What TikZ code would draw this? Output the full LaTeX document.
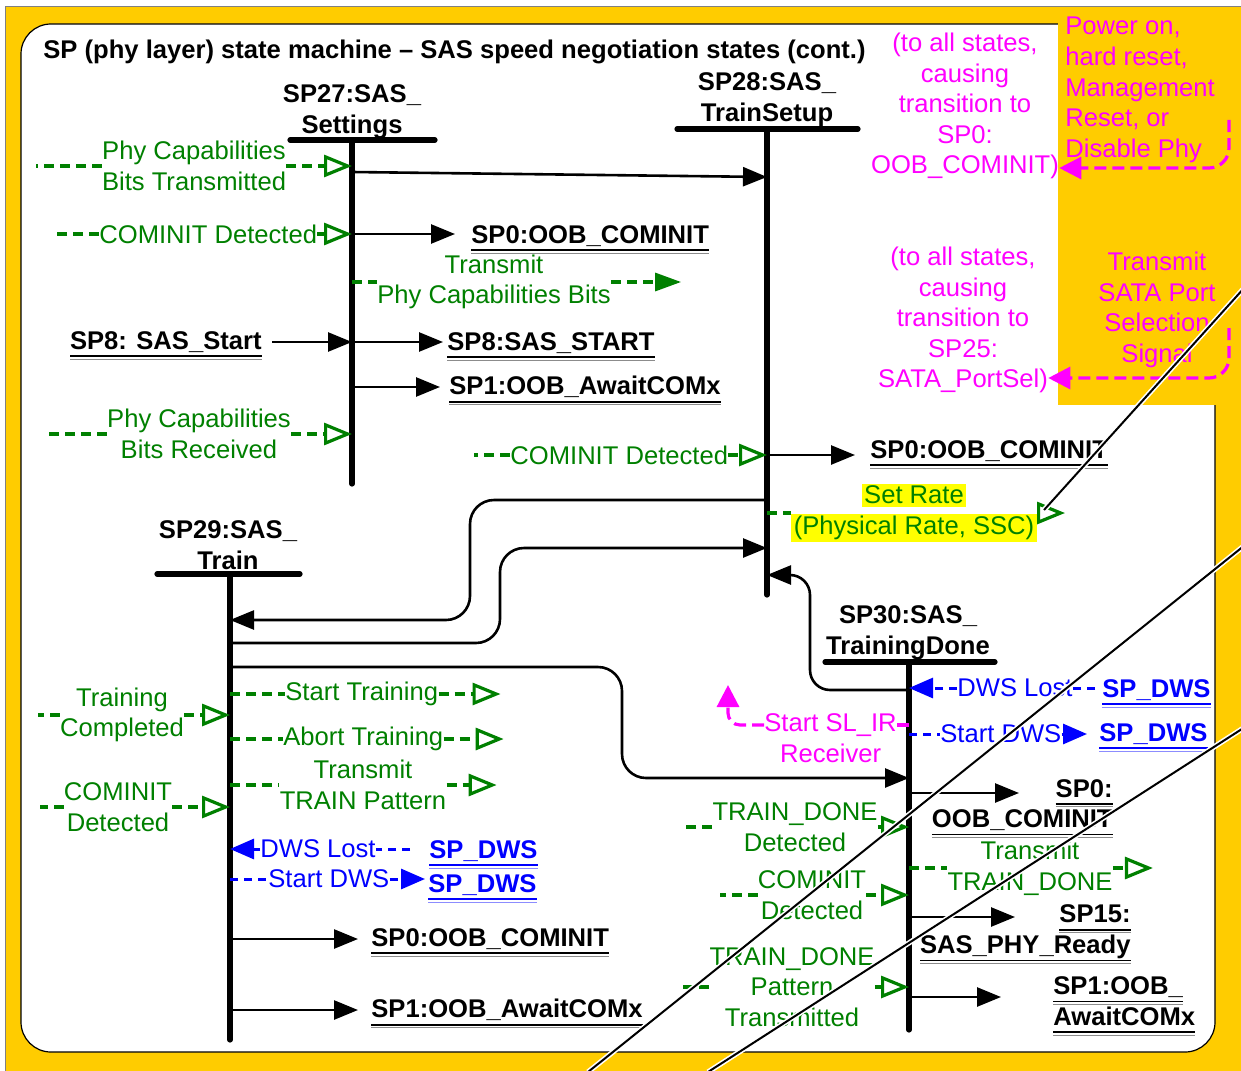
\documentclass[tikz,border=0pt]{standalone}
\usepackage{fontspec}
\setmainfont{Liberation Sans}
\usepackage{xcolor}
\usepackage{tikz}
\usetikzlibrary{arrows.meta,positioning}
\definecolor{backyel}{HTML}{FFCC00}
\definecolor{siggrn}{HTML}{008000}
\definecolor{resetmag}{HTML}{FF00FF}
\definecolor{dwsblue}{HTML}{0000FF}
\definecolor{hilite}{HTML}{FFFF00}
\newcommand{\stul}[1]{\setbox0=\hbox{#1}%
  \rlap{\raisebox{-3.9pt}[0pt][0pt]{\rule{\wd0}{0.9pt}}}%
  \rlap{\raisebox{-5.2pt}[0pt][0pt]{\color{.!45}\rule{\wd0}{0.5pt}}}%
  \box0}
\newcommand{\hilit}[1]{{\setlength{\fboxsep}{1.2pt}\colorbox{hilite}{#1}}}

\begin{document}
\begin{tikzpicture}[x=0.5pt,y=-0.5pt,node distance=3pt,
  txt/.style={font=\fontsize{12.8}{15.3}\selectfont,inner sep=0pt,align=center},
  stname/.style={txt,font=\fontsize{12.8}{15.3}\selectfont\bfseries},
  sigtxt/.style={txt,text=siggrn},
  magtxt/.style={txt,text=resetmag},
  dwstxt/.style={txt,text=dwsblue},
  dwsdest/.style={stname,text=dwsblue},
  bar/.style={line width=2.6pt,line cap=round},
  go/.style={line width=1.3pt,-{Triangle[length=12pt,width=9.5pt]}},
  sigd/.style={siggrn,line width=1.6pt,dash pattern=on 5pt off 3pt},
  sigin/.style={sigd,-{Triangle[open,length=14pt,width=11pt]}},
  sigout/.style={sigd,-{Triangle[length=13pt,width=9pt]}},
  dwsd/.style={dwsblue,line width=1.5pt,dash pattern=on 4pt off 3pt},
  dwsarr/.style={dwsd,-{Triangle[length=12pt,width=10pt]}},
  magd/.style={resetmag,line width=1.6pt,dash pattern=on 6pt off 3pt},
  magarr/.style={magd,-{Triangle[length=11pt,width=11pt]}},
  stray/.style={black,line width=1pt,preaction={draw=white,line width=2.6pt}}]
\useasboundingbox (0,0) rectangle (1241,1070);
% frame
\fill[white] (0,0) rectangle (1241,1070);
\draw[gray,fill=backyel] (5,6) rectangle (1250,1080);
\draw[fill=white,rounded corners=15pt,line width=0.6pt] (21,24) rectangle (1215,1052);
\fill[backyel] (1058,7) rectangle (1241,405);
\node[stname,anchor=west] (title) at (43,52) {SP (phy layer) state machine – SAS speed negotiation states (cont.)};

% states
\coordinate (l27) at (352,140);
\coordinate (l28) at (767,129);
\coordinate (l29) at (230,574);
\coordinate (l30) at (909,662);
\node[stname] (sp27) at (352,112) {SP27:SAS\_\\Settings};
\draw[bar] (290,140) -- (435,140);
\draw[bar] (l27) -- (352,484);
\node[stname] (sp28) at (767,100) {SP28:SAS\_\\TrainSetup};
\draw[bar] (677,129) -- (858,129);
\draw[bar] (l28) -- (767,595);
\node[stname] (sp29) at (228,545) {SP29:SAS\_\\Train};
\draw[bar] (157,574) -- (300,574);
\draw[bar] (l29) -- (230,1040);
\node[stname] (sp30) at (908,633) {SP30:SAS\_\\TrainingDone};
\draw[bar] (825,662) -- (995,662);
\draw[bar] (l30) -- (909,1030);

% SP27
\node[sigtxt] (pct) at (194,166) {Phy Capabilities\\Bits Transmitted};
\draw[sigd] (pct.west) -- +(-66,0);
\draw[sigin] (pct.east) -- (pct.east -| l27);
\draw[go] (l27 |- 0,172) -- (l28 |- 0,177);
\node[sigtxt,anchor=west] (cin1) at (99,234) {COMINIT Detected};
\draw[sigd] (cin1.west) -- +(-44,0);
\draw[sigin] (cin1.east) -- (cin1.east -| l27);
\node[stname,anchor=west] (oob1) at (471,236) {\stul{SP0:OOB\_COMINIT}};
\draw[go,shorten >=8pt] (cin1.east -| l27) -- (oob1.west |- cin1.east);
\node[sigtxt] (tpc) at (494,282) {Transmit\\Phy Capabilities Bits};
\draw[sigd] (tpc.west -| l27) -- (tpc.west);
\draw[sigout] (tpc.east) -- +(70,0);
\node[stname,anchor=east] (sp8in) at (262,342) {\stul{SP8: SAS\_Start}};
\draw[go,shorten <=5pt] (sp8in.east) -- (sp8in.east -| l27);
\node[stname,anchor=west] (sp8out) at (447,343) {\stul{SP8:SAS\_START}};
\draw[go,shorten >=2pt] (sp8in.east -| l27) -- (sp8out.west |- sp8in.east);
\node[stname,anchor=west] (oobw1) at (449,387) {\stul{SP1:OOB\_AwaitCOMx}};
\draw[go,shorten >=4.5pt] (oobw1.west -| l27) -- (oobw1.west);
\node[sigtxt] (pcr) at (199,434) {Phy Capabilities\\Bits Received};
\draw[sigd] (pcr.west) -- +(-60,0);
\draw[sigin] (pcr.east) -- (pcr.east -| l27);

% SP28
\node[sigtxt,anchor=west] (cin2) at (510,455) {COMINIT Detected};
\draw[sigd] (cin2.west) -- +(-36,0);
\draw[sigin] (cin2.east) -- (cin2.east -| l28);
\node[stname,anchor=west] (oob2) at (870,451) {\stul{SP0:OOB\_COMINIT}};
\draw[go,shorten >=7.5pt] (cin2.east -| l28) -- (oob2.west |- cin2.east);
\node[sigtxt] (srate) at (914,513) {\hilit{Set Rate}\\\hilit{(Physical Rate, SSC)}};
\draw[sigd] (srate.west -| l28) -- (srate.west);
\draw[sigin] (srate.east) -- +(28,0);

% between states
\draw[go,rounded corners=12pt] (l28 |- 0,500) -- (470,500) -- (470,620) -- (l29 |- 0,620);
\draw[go,rounded corners=12pt] (l29 |- 0,643) -- (500,643) -- (500,548) -- (l28 |- 0,548);
\draw[go,rounded corners=10pt] (l30 |- 0,690) -- (810,690) -- (810,575) -- (l28 |- 0,575);
\draw[go,rounded corners=12pt] (l29 |- 0,667) -- (622,667) -- (622,778) -- (l30 |- 0,778);

% SP29
\node[sigtxt] (tcomp) at (122,715) {Training\\Completed};
\draw[sigd] (tcomp.west) -- +(-22,0);
\draw[sigin] (tcomp.east) -- (tcomp.east -| l29);
\node[sigtxt] (cin3) at (118,807) {COMINIT\\Detected};
\draw[sigd] (cin3.west) -- +(-24,0);
\draw[sigin] (cin3.east) -- (cin3.east -| l29);
\node[sigtxt,anchor=west] (strain) at (285,694) {Start Training};
\draw[sigd] (strain.west -| l29) -- (strain.west);
\draw[sigin] (strain.east) -- +(62,0);
\node[sigtxt,anchor=west] (atrain) at (283,739) {Abort Training};
\draw[sigd] (atrain.west -| l29) -- (atrain.west);
\draw[sigin] (atrain.east) -- +(60,0);
\node[sigtxt] (ttrain) at (363,785) {Transmit\\TRAIN Pattern};
\draw[sigd] (ttrain.west -| l29) -- (ttrain.west);
\draw[sigin] (ttrain.east) -- +(50,0);
\node[dwstxt,anchor=west] (dlost1) at (260,849) {DWS Lost};
\draw[dwsarr] (dlost1.west) -- (dlost1.west -| l29);
\node[dwsdest,anchor=west] (dws1) at (429,851) {\stul{SP\_DWS}};
\draw[dwsd,shorten <=9.5pt] (dws1.west |- dlost1.east) -- (dlost1.east);
\node[dwstxt,anchor=west] (sdws1) at (268,879) {Start DWS};
\draw[dwsd] (sdws1.west -| l29) -- (sdws1.west);
\node[dwsdest,anchor=west] (dws2) at (428,885) {\stul{SP\_DWS}};
\draw[dwsarr,shorten >=1.5pt] (sdws1.east) -- (dws2.west |- sdws1.east);
\node[stname,anchor=west] (oob3) at (371,939) {\stul{SP0:OOB\_COMINIT}};
\draw[go,shorten >=6.5pt] (oob3.west -| l29) -- (oob3.west);
\node[stname,anchor=west] (oobw2) at (371,1010) {\stul{SP1:OOB\_AwaitCOMx}};
\draw[go,shorten >=6.5pt] (oobw2.west -| l29) -- (oobw2.west);

% SP30
\node[dwstxt,anchor=west] (dlost2) at (957,688) {DWS Lost};
\draw[dwsarr] (dlost2.west) -- (dlost2.west -| l30);
\node[dwsdest,anchor=west] (dws3) at (1102,690) {\stul{SP\_DWS}};
\draw[dwsd,shorten <=3.5pt] (dws3.west |- dlost2.east) -- (dlost2.east);
\node[magtxt,anchor=west] (slir) at (764,725) {Start SL\_IR};
\node[magtxt,below=3.5pt of slir] (slir2) {Receiver};
\draw[magd] (slir.east -| l30) -- (slir.east);
\draw[magarr,rounded corners=6pt] (slir.west) -- ++(-36,0) -- ++(0,-40);
\node[dwstxt,anchor=west] (sdws2) at (940,734) {Start DWS};
\draw[dwsd] (sdws2.west -| l30) -- (sdws2.west);
\node[dwsdest,anchor=west] (dws4) at (1099,734) {\stul{SP\_DWS}};
\draw[dwsarr,shorten >=6pt] (sdws2.east) -- (dws4.west |- sdws2.east);
\node[stname,anchor=east,align=right] (oob4) at (1113,805) {\stul{SP0:}\\\stul{OOB\_COMINIT}};
\draw[go] (l30 |- 0,793) -- ++(110,0);
\node[sigtxt] (tdone) at (795,827) {TRAIN\_DONE\\Detected};
\draw[sigd] (tdone.west) -- +(-28,0);
\draw[sigin] (tdone.east) -- (tdone.east -| l30);
\node[sigtxt] (ttd) at (1030,868) {Transmit\\TRAIN\_DONE};
\draw[sigd] (ttd.west -| l30) -- (ttd.west);
\draw[sigin] (ttd.east) -- +(40,0);
\node[sigtxt] (cin4) at (812,895) {COMINIT\\Detected};
\draw[sigd] (cin4.west) -- +(-38,0);
\draw[sigin] (cin4.east) -- (cin4.east -| l30);
\node[stname,anchor=east,align=right] (rdy) at (1131,932) {\stul{SP15:}\\\stul{SAS\_PHY\_Ready}};
\draw[go] (l30 |- 0,917) -- ++(106,0);
\node[sigtxt] (tdpt) at (792,987) {TRAIN\_DONE\\Pattern\\Transmitted};
\draw[sigd] (tdpt.west) -- +(-30,0);
\draw[sigin] (tdpt.east) -- (tdpt.east -| l30);
\node[stname,anchor=west,align=left] (oobw3) at (1053,1001) {\stul{SP1:OOB\_}\\\stul{AwaitCOMx}};
\draw[go] (l30 |- 0,997) -- ++(92,0);

% global transitions
\node[magtxt] (allsp0) at (965,106) {(to all states,\\causing\\transition to\\SP0:\\OOB\_COMINIT)};
\node[magtxt,anchor=west,align=left] (pwron) at (1065,90) {Power on,\\hard reset,\\Management\\Reset, or\\Disable Phy};
\coordinate (pwrtail) at (1229,120);
\draw[magarr,rounded corners=10pt] (pwrtail) -- (pwrtail |- 0,168) -- (allsp0.east |- 0,168);
\node[magtxt] (allsp25) at (963,320) {(to all states,\\causing\\transition to\\SP25:\\SATA\_PortSel)};
\node[magtxt] (tsps) at (1157,310) {Transmit\\SATA Port\\Selection\\Signal};
\coordinate (tspstail) at (1229,328);
\draw[magarr,rounded corners=10pt] (tspstail) -- (tspstail |- 0,378) -- (allsp25.east |- 0,378);

% stray strokes
\draw[stray] (1245,287) -- (1044,510);
\draw[stray] (1245,545) -- (588,1072);
\draw[stray] (1245,727) -- (708,1072);
\end{tikzpicture}
\end{document}
